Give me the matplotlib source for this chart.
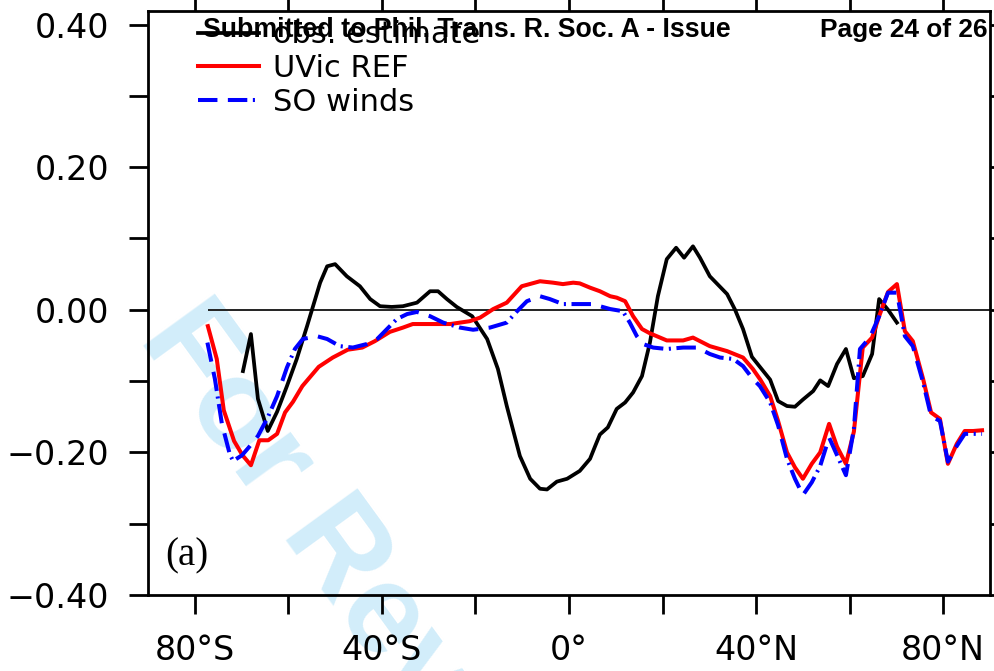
import numpy as np
import matplotlib
matplotlib.use("Agg")
import matplotlib.pyplot as plt

plt.rcParams['lines.scale_dashes'] = False

# observational estimate (black)
obs_lat = [-69.7, -68.0, -66.5, -64.4, -62.4, -60.3, -58.2, -56.0, -53.2, -51.7,
           -50.0, -47.5, -44.7, -42.5, -40.4, -37.9, -35.5, -32.5, -29.7, -28.0,
           -26.1, -24.0, -20.7, -17.5, -15.2, -13.3, -10.5, -8.3, -6.2, -4.7,
           -2.6, -0.4, 2.3, 4.5, 5.6, 6.6, 8.3, 10.2, 12.0, 13.7,
           15.6, 17.3, 19.0, 20.9, 22.9, 24.6, 26.5, 28.0, 30.1, 33.8,
           35.5, 37.2, 39.1, 40.8, 43.0, 44.7, 46.6, 48.3, 50.0, 52.2,
           53.7, 55.4, 57.3, 59.2, 60.9, 62.8, 64.8, 66.3, 68.2, 70.1]
obs_val = [-0.086, -0.034, -0.125, -0.170, -0.143, -0.107, -0.069, -0.023, 0.038, 0.061,
           0.064, 0.047, 0.033, 0.015, 0.005, 0.004, 0.005, 0.010, 0.026, 0.026,
           0.015, 0.004, -0.009, -0.041, -0.083, -0.135, -0.205, -0.237, -0.251, -0.252,
           -0.241, -0.237, -0.226, -0.209, -0.191, -0.175, -0.165, -0.139, -0.130, -0.116,
           -0.093, -0.046, 0.019, 0.071, 0.087, 0.073, 0.089, 0.073, 0.047, 0.022,
           0.000, -0.027, -0.066, -0.080, -0.098, -0.128, -0.135, -0.136, -0.126, -0.114,
           -0.099, -0.107, -0.076, -0.055, -0.096, -0.093, -0.062, 0.015, 0.000, -0.018]

# UVic reference run (red)
ref_lat = [-77.2, -75.3, -73.8, -71.6, -69.8, -68.0, -66.2, -64.3, -62.4, -60.7,
           -59.0, -57.0, -53.5, -50.5, -47.3, -44.2, -41.5, -38.3, -35.5, -33.4,
           -25.4, -21.2, -19.0, -16.2, -13.3, -10.1, -6.2, -3.4, -1.3, 0.9,
           2.3, 4.5, 6.6, 8.8, 10.2, 12.0, 13.7, 15.6, 17.3, 20.9,
           24.4, 26.5, 30.1, 33.8, 37.2, 39.3, 40.9, 43.0, 44.7, 46.6,
           48.3, 50.0, 51.9, 53.7, 55.6, 57.3, 59.2, 60.9, 62.8, 64.8,
           66.3, 68.2, 70.1, 71.8, 73.5, 75.7, 77.4, 79.3, 81.0, 82.9,
           84.6, 86.4, 88.3]
ref_val = [-0.023, -0.069, -0.141, -0.184, -0.204, -0.218, -0.183, -0.183, -0.174, -0.144,
           -0.129, -0.107, -0.080, -0.067, -0.056, -0.053, -0.044, -0.031, -0.025, -0.020,
           -0.020, -0.016, -0.011, 0.001, 0.010, 0.033, 0.040, 0.038, 0.036, 0.038,
           0.037, 0.031, 0.026, 0.019, 0.017, 0.012, -0.009, -0.027, -0.033, -0.043,
           -0.043, -0.039, -0.051, -0.058, -0.067, -0.083, -0.098, -0.121, -0.156, -0.200,
           -0.221, -0.237, -0.216, -0.200, -0.160, -0.192, -0.216, -0.171, -0.053, -0.039,
           -0.009, 0.025, 0.036, -0.030, -0.044, -0.097, -0.144, -0.153, -0.216, -0.188,
           -0.170, -0.170, -0.169]

# Southern Ocean winds run (blue)
so_lat = [-77.3, -75.7, -74.2, -72.5, -71.8, -69.9, -68.2, -66.5, -64.4, -62.4,
          -60.3, -58.6, -56.9, -53.9, -51.7, -49.0, -46.2, -43.2, -41.0, -38.9,
          -36.8, -34.6, -32.5, -29.7, -26.9, -23.3, -20.5, -16.9, -13.3, -11.1,
          -9.0, -6.2, -4.1, -1.3, 2.3, 5.1, 6.6, 8.8, 11.5, 13.0,
          14.5, 15.8, 18.0, 20.9, 24.4, 27.4, 30.1, 32.3, 35.1, 37.2,
          39.3, 40.8, 43.0, 44.7, 46.6, 48.3, 50.0, 51.9, 53.7, 55.6,
          57.3, 59.2, 60.9, 62.2, 64.3, 66.3, 68.2, 70.1, 71.8, 73.5,
          75.7, 77.4, 79.3, 81.0, 82.9, 84.6, 88.3]
so_val = [-0.046, -0.097, -0.160, -0.203, -0.212, -0.204, -0.191, -0.177, -0.151, -0.121,
          -0.081, -0.055, -0.041, -0.037, -0.041, -0.051, -0.053, -0.048, -0.041, -0.027,
          -0.013, -0.006, -0.003, -0.009, -0.018, -0.025, -0.028, -0.025, -0.018, -0.002,
          0.012, 0.019, 0.015, 0.008, 0.008, 0.008, 0.005, 0.001, -0.002, -0.018,
          -0.037, -0.048, -0.053, -0.055, -0.053, -0.053, -0.062, -0.067, -0.069, -0.079,
          -0.097, -0.107, -0.130, -0.162, -0.209, -0.237, -0.260, -0.242, -0.219, -0.179,
          -0.204, -0.232, -0.167, -0.055, -0.039, -0.009, 0.024, 0.024, -0.037, -0.051,
          -0.102, -0.149, -0.156, -0.213, -0.191, -0.174, -0.174]

xticks = [-80, -60, -40, -20, 0, 20, 40, 60, 80]
xlabels = ["80°S", "", "40°S", "", "0°", "", "40°N", "", "80°N"]
yticks = [-0.4, -0.3, -0.2, -0.1, 0.0, 0.1, 0.2, 0.3, 0.4]
ylabels = ["\u22120.40", "", "\u22120.20", "", "0.00", "", "0.20", "", "0.40"]

fig = plt.figure(figsize=(9.95, 6.71), dpi=100)
ax = fig.add_axes([148/995, 1 - 595/671, 842/995, 584/671])
ax.set_facecolor('none')

# watermark behind the axes content
fig.text(138/995, 1 - 338/671, "For Review Only", fontsize=92, fontweight='bold',
         family='Liberation Sans', color='#d2edfa', rotation=-54,
         rotation_mode='anchor', ha='left', va='baseline', zorder=-5)

ax.hlines(0, ref_lat[0], 90, color='#222222', lw=1.4, zorder=1)
ax.plot(obs_lat, obs_val, color='black', lw=2.7, label='obs. estimate', zorder=3)
ax.plot(ref_lat, ref_val, color='#ff0000', lw=2.9, label='UVic REF', zorder=4)
ax.plot(so_lat, so_val, color='#0000ff', lw=2.9, label='SO winds', zorder=5,
        linestyle=(0, (14, 7.5, 14, 4, 1.5, 4)))

ax.set_xlim(-90, 90)
ax.set_ylim(-0.4, 0.419)
ax.set_xticks(xticks)
ax.set_xticklabels(xlabels)
ax.set_yticks(yticks)
ax.set_yticklabels(ylabels)
ax.tick_params(direction='out', length=14, width=2, labelsize=24, pad=14,
               top=True, right=True)
for s in ax.spines.values():
    s.set_linewidth(2)

leg = ax.legend(loc='upper left', bbox_to_anchor=(0.045, 1.005), frameon=False,
                fontsize=22, handlelength=2.0, handletextpad=0.45,
                labelspacing=0.16, borderaxespad=0)

ax.text((165 - 148) / 842, 0.05, "(a)", transform=ax.transAxes,
        family='Liberation Serif', fontsize=28, ha='left', va='baseline')

fig.text(203/995, 1 - 37/671, "Submitted to Phil. Trans. R. Soc. A - Issue",
         family='Liberation Sans', fontweight='bold', fontsize=19.3, zorder=10)
fig.text(988/995, 1 - 37/671, "Page 24 of 26", ha='right',
         family='Liberation Sans', fontweight='bold', fontsize=18.9, zorder=10)

fig.savefig("out.png", dpi=100)
